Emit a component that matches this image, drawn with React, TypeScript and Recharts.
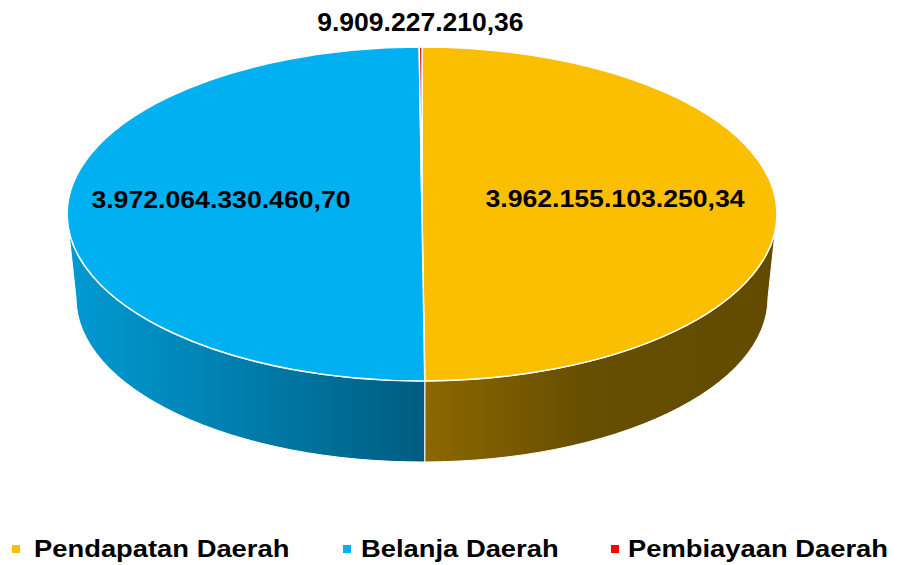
import React from "react";
import { PieChart, Pie, Cell, Legend } from "recharts";

const categories = ["Pendapatan Daerah", "Belanja Daerah", "Pembiayaan Daerah"];
const amounts = [3962155103250.34, 3972064330460.7, 9909227210.36];
const topColors = ["#FABF00", "#00B0F0", "#FF0000"];
// light -> dark, left to right along the visible wall
const sideColors = [
  ["#8C6700", "#674F00", "#614B00"],
  ["#009AD2", "#0080B0", "#005C80"],
  ["#A00000", "#800000", "#600000"],
];

const data = categories.map((name, i) => ({ name, value: amounts[i] }));

const W = 898;
const H = 565;
const CX = 422;
const CY = 214;
const R = 355;
const SQUASH = 167 / 355;
const DEPTH = 84;
const BOTTOM_SCALE = 346 / 355;
const FONT = '"Liberation Sans", Arial, sans-serif';

const RAD = Math.PI / 180;
const pt = (cx: number, cy: number, rx: number, ry: number, a: number) => [
  cx + rx * Math.cos(-a * RAD),
  cy + ry * Math.sin(-a * RAD),
];

function formatId(v: number) {
  const [int, dec] = v.toFixed(2).split(".");
  return int.replace(/\B(?=(\d{3})+(?!\d))/g, ".") + "," + dec;
}

function TopSector(props: any) {
  const { cx, cy, outerRadius, startAngle, endAngle, fill } = props;
  const rx = outerRadius;
  const ry = outerRadius * SQUASH;
  const hi = Math.max(startAngle, endAngle);
  const lo = Math.min(startAngle, endAngle);
  const [x1, y1] = pt(cx, cy, rx, ry, hi);
  const [x2, y2] = pt(cx, cy, rx, ry, lo);
  const large = hi - lo > 180 ? 1 : 0;
  const d = `M${cx},${cy} L${x1},${y1} A${rx},${ry} 0 ${large} 1 ${x2},${y2} Z`;
  return <path d={d} fill={fill} stroke="#ffffff" strokeWidth={1.5} strokeLinejoin="round" />;
}

function SideSector(props: any) {
  const { cx, cy, outerRadius, startAngle, endAngle, index } = props;
  const rx = outerRadius;
  const ry = outerRadius * SQUASH;
  const rxb = rx * BOTTOM_SCALE;
  const ryb = ry * (164 / 167);
  const cyb = cy + DEPTH;
  const hi = Math.max(startAngle, endAngle);
  const lo = Math.min(startAngle, endAngle);
  const paths: React.ReactNode[] = [];
  for (let k = -2; k <= 1; k++) {
    const a = Math.max(lo, -180 + 360 * k);
    const b = Math.min(hi, 360 * k);
    if (b - a <= 0.01) continue;
    const [tx1, ty1] = pt(cx, cy, rx, ry, b);
    const [tx2, ty2] = pt(cx, cy, rx, ry, a);
    const [bx2, by2] = pt(cx, cyb, rxb, ryb, a);
    const [bx1, by1] = pt(cx, cyb, rxb, ryb, b);
    const gid = `side-grad-${index}-${k}`;
    const xs = Math.min(tx1, tx2, bx1, bx2);
    const xe = Math.max(tx1, tx2, bx1, bx2);
    const stops = sideColors[index] || sideColors[0];
    paths.push(
      <g key={k}>
        <defs>
          <linearGradient id={gid} gradientUnits="userSpaceOnUse" x1={xs} y1={0} x2={xe} y2={0}>
            <stop offset="0%" stopColor={stops[0]} />
            <stop offset="45%" stopColor={stops[1]} />
            <stop offset="100%" stopColor={stops[2]} />
          </linearGradient>
        </defs>
        <path
          d={`M${tx1},${ty1} A${rx},${ry} 0 0 1 ${tx2},${ty2} L${bx2},${by2} A${rxb},${ryb} 0 0 0 ${bx1},${by1} Z`}
          fill={`url(#${gid})`}
          stroke="#ffffff"
          strokeWidth={1}
          strokeLinejoin="round"
        />
      </g>
    );
  }
  return <g>{paths}</g>;
}

function renderLabel(props: any) {
  const { cx, cy, midAngle, outerRadius, percent, value } = props;
  const small = percent < 0.02;
  const k = small ? 1.15 : 0.555;
  const [x, y] = pt(cx, cy, outerRadius * k, outerRadius * SQUASH * k, midAngle);
  const fontSize = small ? 26 : 24;
  const stretch = small ? 1.02 : 1.11;
  return (
    <text
      transform={`translate(${small ? x : x - 4},${small ? y : y - 15}) scale(${stretch},1)`}
      textAnchor="middle"
      dominantBaseline="central"
      fontFamily={FONT}
      fontWeight="bold"
      fontSize={fontSize}
      fill="#000000"
    >
      {formatId(value)}
    </text>
  );
}

const legendMarkerX = [12, 343, 611];
const legendTextX = [34, 361, 628];

function renderLegend() {
  return (
    <svg width={W} height={36} style={{ display: "block" }}>
      {categories.map((name, i) => (
        <g key={name}>
          <rect x={legendMarkerX[i]} y={16} width={8} height={8} fill={topColors[i]} />
          <text
            transform={`translate(${legendTextX[i]},28) scale(1.19,1)`}
            fontFamily={FONT}
            fontWeight="bold"
            fontSize={23}
            fill="#000000"
          >
            {name}
          </text>
        </g>
      ))}
    </svg>
  );
}

export default function App() {
  return (
    <div style={{ position: "absolute", left: 0, top: 0, width: W, height: H, background: "#ffffff" }}>
      <PieChart width={W} height={H} margin={{ top: 0, right: 0, bottom: 0, left: 0 }}>
        <Pie
          data={data}
          dataKey="value"
          nameKey="name"
          cx={CX}
          cy={CY}
          outerRadius={R}
          startAngle={90}
          endAngle={-270}
          shape={SideSector}
          legendType="none"
          isAnimationActive={false}
          stroke="none"
        >
          {data.map((d, i) => (
            <Cell key={d.name} fill={topColors[i]} />
          ))}
        </Pie>
        <Pie
          data={data}
          dataKey="value"
          nameKey="name"
          cx={CX}
          cy={CY}
          outerRadius={R}
          startAngle={90}
          endAngle={-270}
          shape={TopSector}
          label={renderLabel}
          labelLine={false}
          legendType="square"
          isAnimationActive={false}
        >
          {data.map((d, i) => (
            <Cell key={d.name} fill={topColors[i]} />
          ))}
        </Pie>
        <Legend
          verticalAlign="bottom"
          content={renderLegend}
          wrapperStyle={{ left: 0, bottom: 0, width: W }}
        />
      </PieChart>
    </div>
  );
}
